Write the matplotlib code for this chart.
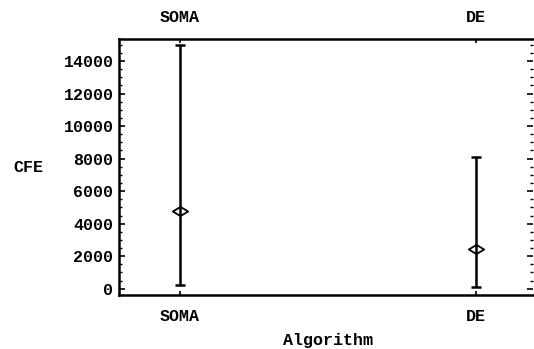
import matplotlib
matplotlib.use("Agg")
import matplotlib.pyplot as plt
from matplotlib.path import Path
from matplotlib.ticker import MultipleLocator

algorithms = ["SOMA", "DE"]
cfe_mean = [4750, 2450]
cfe_low = [200, 100]
cfe_high = [15000, 8100]

plt.rcParams['font.family'] = ['Liberation Mono', 'DejaVu Sans Mono']
plt.rcParams['font.weight'] = 'bold'

fig = plt.figure(figsize=(5.34, 3.49), dpi=100)
ax = fig.add_axes([119/534, 1-295/349, (533-119)/534, (295-39)/349])

# flattened open diamond
diamond = Path([(-1, 0), (0, 0.6), (1, 0), (0, -0.6), (-1, 0)],
               [Path.MOVETO, Path.LINETO, Path.LINETO, Path.LINETO, Path.CLOSEPOLY])

xs = [1, 2]
for x, m, lo, hi in zip(xs, cfe_mean, cfe_low, cfe_high):
    ax.errorbar([x], [m], yerr=[[m - lo], [hi - m]], fmt='none',
                ecolor='black', elinewidth=1.8, capsize=3.5, capthick=1.8)
    ax.plot([x], [m], marker=diamond, markersize=11, markerfacecolor='none',
            markeredgecolor='black', markeredgewidth=1.3, linestyle='none')

ax.set_xlim(0.794, 2.194)
ax.set_ylim(-387, 15352)

ax.set_xticks(xs)
ax.set_xticklabels(algorithms)
ax.yaxis.set_major_locator(MultipleLocator(2000))
ax.yaxis.set_minor_locator(MultipleLocator(500))
ax.set_yticks(range(0, 15000, 2000))

ax.tick_params(axis='x', which='both', direction='in', top=True, labeltop=True,
               length=3, width=1.2, pad=10, labelsize=12)
ax.tick_params(axis='y', which='major', direction='in', right=True, length=4,
               width=1.2, pad=4, labelsize=12)
ax.tick_params(axis='y', which='minor', direction='in', right=True, length=2,
               width=1)

for side in ['left', 'top', 'bottom']:
    ax.spines[side].set_linewidth(1.8)
ax.spines['right'].set_visible(False)

fig.text(28/534, 1-168/349, "CFE", ha='center', va='center', fontsize=12)
fig.text(328/534, 1-340/349, "Algorithm", ha='center', va='center', fontsize=12)

fig.savefig("out.png", dpi=100)
